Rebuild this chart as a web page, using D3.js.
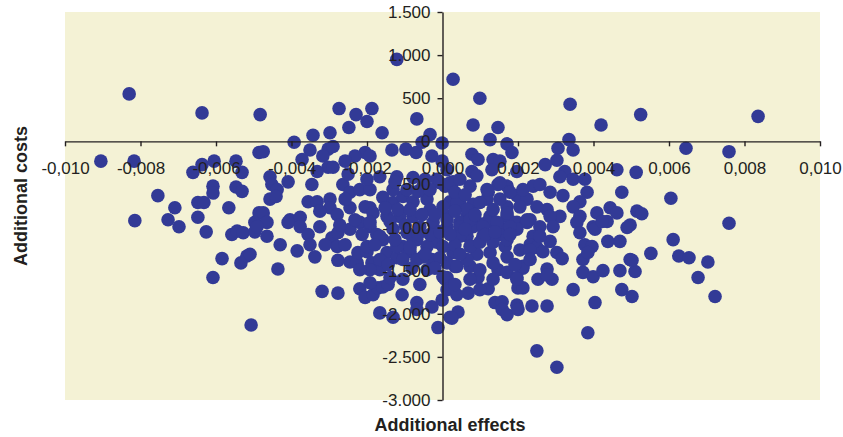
<!DOCTYPE html>
<html>
<head>
<meta charset="utf-8">
<script src="https://cdn.jsdelivr.net/npm/d3@7"></script>
<style>
  body { margin: 0; background: #fff; }
  svg { display: block; font-family: "Liberation Sans", Arial, sans-serif; }
  .axis text { font-size: 17px; fill: #231f20; }
  .axis path, .axis line { stroke: #231f20; stroke-width: 1.4; }
  .title { font-size: 18px; font-weight: bold; fill: #231f20; }
</style>
</head>
<body>
<svg width="843" height="437"></svg>
<script>
// ---> Data
const xTicks = [-0.010, -0.008, -0.006, -0.004, -0.002, 0, 0.002, 0.004, 0.006, 0.008, 0.010];
const yTicks = [1500, 1000, 500, 0, -500, -1000, -1500, -2000, -2500, -3000];
const xTitle = "Additional effects";
const yTitle = "Additional costs";

// additional effects of each simulation
const effects = [
  -905e-5, -830e-5, -817e-5, -754e-5, -815e-5, -637e-5, -483e-5, -637e-5, -605e-5, -661e-5,
  -547e-5, -531e-5, -486e-5, -608e-5, -608e-5, -547e-5, -531e-5, -709e-5, -648e-5, -632e-5,
  -566e-5, -727e-5, -698e-5, -648e-5, -626e-5, -558e-5, -544e-5, -528e-5, -497e-5, -497e-5,
  -486e-5, -584e-5, -534e-5, -518e-5, -608e-5, -507e-5, -274e-5, -229e-5, -187e-5, -200e-5,
  -248e-5, -298e-5, -343e-5, -160e-5, -68e-5, -33e-5, -1e-5, -393e-5, -475e-5, -351e-5,
  -303e-5, -290e-5, -317e-5, -372e-5, -205e-5, -192e-5, -232e-5, -258e-5, -134e-5, -97e-5,
  -70e-5, -54e-5, -28e-5, -1e-5, -303e-5, -290e-5, -332e-5, -346e-5, -409e-5, -457e-5,
  -452e-5, -438e-5, -457e-5, -441e-5, -475e-5, -264e-5, -250e-5, -245e-5, -219e-5, -192e-5,
  -121e-5, -78e-5, -52e-5, -15e-5, -356e-5, -332e-5, -298e-5, -298e-5, -279e-5, -245e-5,
  -404e-5, -377e-5, -465e-5, -192e-5, -491e-5, -465e-5, -409e-5, -377e-5, -356e-5, -325e-5,
  -293e-5, -277e-5, -245e-5, -219e-5, -192e-5, -430e-5, -385e-5, -338e-5, -279e-5, -277e-5,
  -245e-5, -226e-5, -224e-5, -200e-5, -187e-5, -166e-5, -174e-5, -158e-5, -147e-5, -121e-5,
  -105e-5, -86e-5, -68e-5, -52e-5, -28e-5, -15e-5, -510e-5, -436e-5, -319e-5, -277e-5,
  -219e-5, -205e-5, -184e-5, -171e-5, -158e-5, -144e-5, -107e-5, -166e-5, -131e-5, -68e-5,
  -68e-5, -28e-5, -1e-5, 7e-5, 12e-5, 20e-5, -12e-5, 41e-5, -121e-5, 28e-5,
  99e-5, 338e-5, 525e-5, 81e-5, 147e-5, 420e-5, 126e-5, 171e-5, 184e-5, 335e-5,
  306e-5, 346e-5, 78e-5, 94e-5, 134e-5, 152e-5, 131e-5, 303e-5, 272e-5, 324e-5,
  311e-5, 346e-5, 377e-5, 462e-5, 513e-5, 78e-5, 91e-5, 197e-5, 12e-5, 28e-5,
  73e-5, 7e-5, 147e-5, 171e-5, 240e-5, 258e-5, 285e-5, 319e-5, 383e-5, 364e-5,
  475e-5, 121e-5, 197e-5, 224e-5, 346e-5, 409e-5, 444e-5, 462e-5, 515e-5, 497e-5,
  436e-5, 364e-5, 311e-5, 277e-5, 250e-5, 205e-5, 171e-5, 118e-5, 81e-5, 46e-5,
  20e-5, 12e-5, 65e-5, 126e-5, 171e-5, 232e-5, 285e-5, 356e-5, 399e-5, 91e-5,
  197e-5, 12e-5, 46e-5, 81e-5, 118e-5, 152e-5, 187e-5, 224e-5, 258e-5, 293e-5,
  364e-5, 404e-5, 423e-5, 489e-5, 65e-5, 107e-5, 152e-5, 197e-5, 240e-5, 285e-5,
  438e-5, 470e-5, 377e-5, 396e-5, 1e-5, 28e-5, 81e-5, 91e-5, 126e-5, 166e-5,
  171e-5, 232e-5, 250e-5, 266e-5, 303e-5, 317e-5, 372e-5, 385e-5, 497e-5, 33e-5,
  73e-5, 147e-5, 213e-5, 277e-5, 12e-5, 94e-5, 171e-5, 197e-5, 253e-5, 290e-5,
  277e-5, 372e-5, 399e-5, 425e-5, 470e-5, 510e-5, 38e-5, 68e-5, 121e-5, 200e-5,
  213e-5, 346e-5, 475e-5, 502e-5, 139e-5, 158e-5, 158e-5, 171e-5, 197e-5, 200e-5,
  237e-5, 277e-5, 404e-5, 25e-5, 385e-5, 250e-5, 303e-5, 836e-5, 645e-5, 759e-5,
  605e-5, 528e-5, 759e-5, 611e-5, 552e-5, 626e-5, 653e-5, 703e-5, 502e-5, 677e-5,
  722e-5, -200e-5, -166e-5, -205e-5, -184e-5, -158e-5, -131e-5, -105e-5, -78e-5, -41e-5,
  -7e-5, 20e-5, 46e-5, 118e-5, 152e-5, 179e-5, 213e-5, -192e-5, -147e-5, -113e-5,
  -78e-5, -33e-5, 1e-5, 38e-5, 65e-5, 99e-5, 134e-5, 171e-5, 224e-5, -166e-5,
  -131e-5, -94e-5, -60e-5, -25e-5, 12e-5, 46e-5, 73e-5, 107e-5, 144e-5, 179e-5,
  -200e-5, -121e-5, -78e-5, -41e-5, 46e-5, 73e-5, 99e-5, 134e-5, 171e-5, 205e-5,
  232e-5, -192e-5, -166e-5, -105e-5, -68e-5, -41e-5, 12e-5, 38e-5, 65e-5, 99e-5,
  134e-5, 213e-5, -192e-5, -105e-5, 1e-5, 73e-5, 134e-5, 197e-5, -131e-5, -94e-5,
  -65e-5, -33e-5,
  // dense core around the origin
  -152e-5, -118e-5, -86e-5, -54e-5, -20e-5, -139e-5, -99e-5, -65e-5, -33e-5, -7e-5,
  33e-5, 33e-5, 60e-5, -126e-5, -86e-5, -46e-5, -7e-5, 20e-5, -179e-5, -144e-5,
  -81e-5, -20e-5, 46e-5, 113e-5, 139e-5, 179e-5, 86e-5, 152e-5, 33e-5, 60e-5,
  -126e-5, -46e-5, -258e-5, -232e-5, -213e-5, -272e-5, -325e-5, -351e-5, -311e-5, -258e-5,
  -219e-5, -139e-5, -60e-5, 33e-5, 99e-5, 192e-5, 232e-5, 258e-5
];

// additional costs of each simulation, same order as effects
const costs = [
  -230, 550, -230, -630, -920, 330, 310, -270, -230, -360,
  -230, -360, -130, -520, -600, -530, -580, -770, -710, -710,
  -770, -910, -990, -880, -1050, -1080, -1040, -1060, -940, -1050,
  -830, -1360, -1410, -1330, -1580, -2130, 380, 310, 380, 230,
  160, 100, 70, 100, 260, 80, -20, -10, -120, -100,
  -90, -60, -170, -210, -130, -170, -170, -230, -100, -90,
  -130, -10, -170, -230, -300, -300, -350, -500, -470, -410,
  -500, -560, -670, -640, -830, -500, -380, -590, -560, -560,
  -410, -420, -520, -440, -700, -700, -670, -770, -850, -770,
  -910, -880, -940, -770, -990, -1100, -940, -990, -1080, -990,
  -1120, -1060, -1020, -940, -990, -1200, -1270, -1340, -1220, -1380,
  -1400, -1410, -1290, -1280, -1410, -1490, -1080, -1140, -1290, -1350,
  -1220, -1280, -1140, -1340, -1370, -1170, -1310, -1480, -1740, -1760,
  -1710, -1810, -1780, -1700, -1690, -1660, -1780, -1990, -2040, -1870,
  -1950, -1920, -1840, -1600, -1720, -2040, -2160, -1980, 950, 720,
  500, 430, 310, 190, 160, 190, 20, -30, -130, 20,
  -80, -100, -150, -210, -210, -230, -330, -220, -270, -350,
  -410, -440, -440, -330, -360, -350, -400, -350, -330, -470,
  -520, -520, -500, -520, -520, -500, -590, -630, -590, -700,
  -590, -590, -630, -670, -760, -830, -770, -830, -810, -970,
  -930, -870, -870, -790, -760, -760, -760, -670, -730, -710,
  -700, -870, -870, -870, -870, -910, -870, -940, -990, -940,
  -940, -990, -940, -990, -940, -990, -940, -940, -990, -990,
  -1060, -1020, -930, -1000, -1100, -1100, -1080, -1020, -1100, -1160,
  -1160, -1160, -1200, -1220, -1220, -1290, -1220, -1310, -1290, -1220,
  -1340, -1200, -1230, -1280, -1290, -1360, -1370, -1290, -1370, -1450,
  -1450, -1490, -1470, -1480, -1580, -1580, -1520, -1580, -1600, -1600,
  -1550, -1520, -1570, -1500, -1500, -1510, -1780, -1760, -1710, -1700,
  -1700, -1720, -1720, -1800, -1870, -1860, -1950, -2010, -1900, -1950,
  -1910, -1910, -1870, -2050, -2220, -2430, -2620, 290, -80, -120,
  -660, -840, -950, -1140, -1300, -1330, -1350, -1400, -1380, -1580,
  -1800, -440, -410, -760, -830, -650, -710, -640, -700, -670,
  -480, -480, -440, -560, -480, -590, -560, -940, -870, -870,
  -870, -790, -760, -710, -790, -710, -790, -830, -910, -1100,
  -1020, -1060, -990, -940, -910, -990, -910, -990, -940, -990,
  -1220, -1220, -1140, -1220, -1100, -1220, -1170, -1170, -1140, -1260,
  -1260, -1490, -1370, -1370, -1370, -1490, -1410, -1450, -1370, -1490,
  -1410, -1450, -1640, -1600, -1570, -1600, -1600, -1600, -560, -560,
  -580, -560,
  // dense core around the origin
  -770, -790, -790, -850, -850, -930, -970, -1080, -1080, -1050,
  -810, -1200, -1020, -1140, -1230, -1310, -1350, -1080, -1200, -1430,
  -1470, -1470, -1310, -1080, -1050, -1080, -850, -670, -590, -620,
  -470, -440, -670, -910, -1080, -970, -810, -1200, -1200, -1200,
  -1490, -1580, -1660, -1660, -1720, -1430, -1370, -1100
];

const points = effects.map((e, i) => ({effect: e, cost: costs[i]}));

// ---> Layout
const svg = d3.select("svg");
const plotLeft = 65, plotRight = 820, plotTop = 12, plotBottom = 400;

const x = d3.scaleLinear().domain([-0.010, 0.010]).range([plotLeft, plotRight]);
const y = d3.scaleLinear().domain([-3000, 1500]).range([plotBottom, plotTop]);

// comma decimals, dot thousands
const locale = d3.formatLocale({decimal: ",", thousands: ".", grouping: [3], currency: ["", ""], minus: "-"});
const fmtX = locale.format(".3f");
const fmtY = locale.format(",d");

// plot background
svg.append("rect")
    .attr("x", plotLeft)
    .attr("y", plotTop)
    .attr("width", plotRight - plotLeft)
    .attr("height", plotBottom - plotTop)
    .attr("fill", "#f4f2d5");

// dots
svg.append("g")
    .selectAll("circle")
    .data(points)
    .enter()
    .append("circle")
    .attr("cx", d => x(d.effect))
    .attr("cy", d => y(d.cost))
    .attr("r", 6.8)
    .attr("fill", "#323a96");

// axes cross at 0,0 and sit on top of the dots
svg.append("g")
    .attr("class", "axis")
    .attr("transform", `translate(0,${y(0)})`)
    .call(d3.axisBottom(x).tickValues(xTicks).tickFormat(fmtX).tickSize(5).tickSizeOuter(0).tickPadding(16));

svg.append("g")
    .attr("class", "axis")
    .attr("transform", `translate(${x(0)},0)`)
    .call(d3.axisLeft(y).tickValues(yTicks).tickFormat(fmtY).tickSize(5).tickSizeOuter(0).tickPadding(7));

svg.selectAll(".axis").attr("font-family", null).attr("font-size", null);

// titles
svg.append("text")
    .attr("class", "title")
    .attr("x", 450)
    .attr("y", 431)
    .attr("text-anchor", "middle")
    .text(xTitle);

svg.append("text")
    .attr("class", "title")
    .attr("transform", "translate(27,196) rotate(-90)")
    .attr("text-anchor", "middle")
    .text(yTitle);
</script>
</body>
</html>
